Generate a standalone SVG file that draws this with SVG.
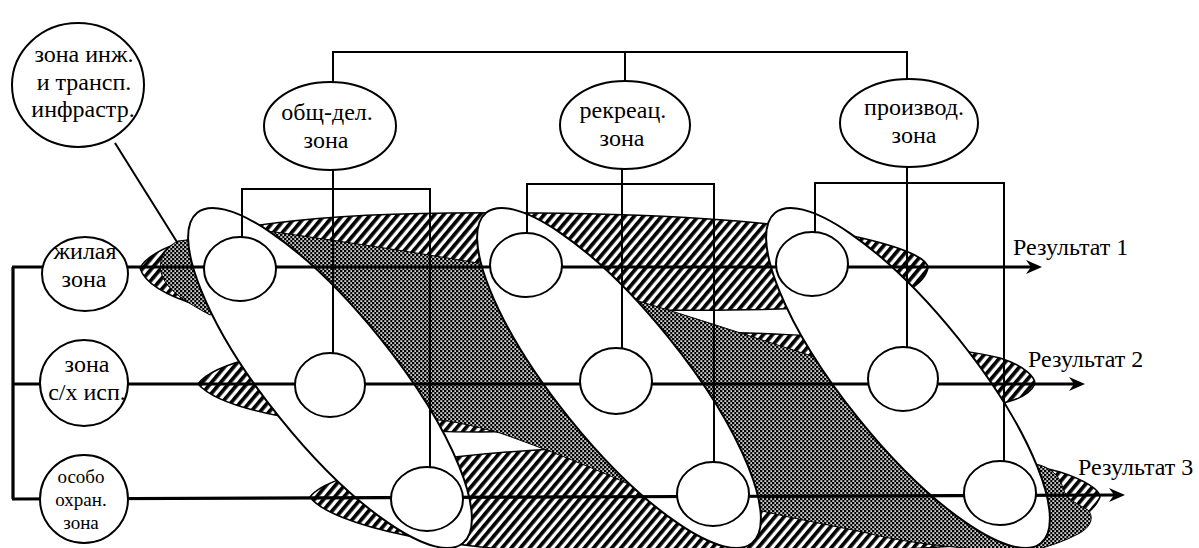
<svg xmlns="http://www.w3.org/2000/svg" width="1199" height="548" viewBox="0 0 1199 548">
<style>
text{font-family:"Liberation Serif","Times New Roman",serif;font-size:24px;fill:#000;text-anchor:middle}
.sm{font-size:19px}
.res{text-anchor:start}
.hat{fill:url(#hatch);stroke:#000;stroke-width:1.5}
.dot{fill:url(#dots);stroke:#000;stroke-width:1}
.big{fill:#fff;stroke:#000;stroke-width:2}
.node{fill:#fff;stroke:#000;stroke-width:2}
.ln{fill:none;stroke:#000;stroke-width:2}
.row{fill:none;stroke:#000;stroke-width:3.2}
</style>
<defs>
<pattern id="hatch" patternUnits="userSpaceOnUse" width="7" height="7" patternTransform="rotate(40)">
<rect width="7" height="7" fill="#fff"/><rect width="3.7" height="7" fill="#000"/>
</pattern>
<pattern id="dots" patternUnits="userSpaceOnUse" width="4" height="4">
<rect width="4" height="4" fill="#000"/><rect x="0.3" y="0.3" width="2" height="1.5" fill="#fff"/><rect x="2.3" y="2.3" width="2" height="1.5" fill="#fff"/>
</pattern>
<marker id="arr" viewBox="-16 -8 16 16" refX="-10" refY="0" markerWidth="16" markerHeight="16" markerUnits="userSpaceOnUse" orient="auto">
<path d="M0,0 L-16,-7 L-11,0 L-16,7 Z" fill="#000"/>
</marker>
</defs>

<g id="zone-fields">
<path class="hat" d="M140,268 C155,240 250,215 450,213 C650,211 800,222 870,240 C910,250 928,260 928,268 C925,282 905,300 850,306 C750,312 650,310 500,310 C350,312 230,315 200,306 C170,297 145,285 140,268 Z"/>
<path class="hat" d="M198,384 C215,360 300,340 500,333 C700,327 900,335 1000,358 C1025,366 1035,377 1035,384 C1030,395 1015,402 990,405 C800,420 600,430 480,432 C350,432 225,415 198,384 Z"/>
<path class="hat" d="M310,497 C330,470 450,452 600,447 C800,442 1000,455 1060,472 C1085,480 1100,490 1100,497 C1095,510 1080,520 1060,530 C1000,552 800,553 600,553 C450,553 330,525 310,497 Z"/>
<path class="dot" d="M178,241 C166,247 158,259 161,272 C165,290 188,303 210,315 L240,300 L205,238 Z"/>
<path class="dot" d="M252,229 C320,238 400,250 478,263 L520,263 L700,480 L650,494 C600,470 540,447 500,433 C470,425 452,421 438,420 L400,400 L260,240 Z"/>
<path class="dot" d="M628,298 C680,313 740,333 818,358 L870,360 L1040,548 L1000,550 C960,549 900,542 867,533 C830,525 790,518 758,510 L700,420 L620,300 Z"/>
<path class="dot" d="M1036,464 C1050,467 1060,476 1063,488 C1066,500 1080,505 1088,510 C1095,518 1090,528 1078,534 C1065,541 1050,546 1035,550 L1000,520 Z"/>
<ellipse class="big" cx="330" cy="378" rx="212" ry="64" transform="rotate(51.2 330 378)"/>
<ellipse class="big" cx="619" cy="378" rx="212" ry="64" transform="rotate(51.2 619 378)"/>
<ellipse class="big" cx="908" cy="378" rx="212" ry="64" transform="rotate(51.2 908 378)"/>
</g>

<g id="connectors">
<path class="ln" d="M333,82 V52 H907 V80 M625,52 V81"/>
<path class="ln" d="M242,238 V189 H430 V468 M333,170 V353"/>
<path class="ln" d="M527,233 V184 H714 V462 M622,168 V348"/>
<path class="ln" d="M815,232 V183 H1004 V461 M907,167 V347"/>
<path class="ln" d="M115,143 L177,242"/>
<path class="row" d="M13,267 V499"/>
<path class="row" d="M12,267 H1032" marker-end="url(#arr)"/>
<path class="row" d="M12,384 H1075" marker-end="url(#arr)"/>
<path class="row" d="M12,499 L1115,495" marker-end="url(#arr)"/>
</g>

<g id="n-infra"><ellipse class="node" cx="78" cy="85" rx="66" ry="62"/>
<text x="84" y="62">зона инж.</text><text x="84" y="90">и трансп.</text><text x="83" y="117">инфрастр.</text></g>
<g id="n-obsh"><ellipse class="node" cx="330" cy="126" rx="66" ry="44"/>
<text x="327" y="120">общ-дел.</text><text x="326" y="148">зона</text></g>
<g id="n-rekr"><ellipse class="node" cx="625" cy="125" rx="65" ry="44"/>
<text x="623" y="118">рекреац.</text><text x="622" y="146">зона</text></g>
<g id="n-proizv"><ellipse class="node" cx="909" cy="123" rx="69" ry="44"/>
<text x="914" y="115">производ.</text><text x="914" y="143">зона</text></g>

<g id="n-zhil"><ellipse class="node" cx="85" cy="274" rx="43" ry="37"/>
<text x="85" y="259">жилая</text><text x="84" y="287">зона</text></g>
<g id="n-sh"><ellipse class="node" cx="84" cy="383" rx="44" ry="43"/>
<text x="87" y="372">зона</text><text x="87" y="400">с/х исп.</text></g>
<g id="n-oohr"><ellipse class="node" cx="84" cy="499" rx="44" ry="44"/>
<text class="sm" x="81" y="483">особо</text><text class="sm" x="81" y="506">охран.</text><text class="sm" x="81" y="529">зона</text></g>

<g id="n-c11"><ellipse class="node" cx="240" cy="269" rx="36" ry="32"/></g>
<g id="n-c12"><ellipse class="node" cx="526" cy="265" rx="36" ry="32"/></g>
<g id="n-c13"><ellipse class="node" cx="812" cy="264" rx="36" ry="32"/></g>
<g id="n-c21"><ellipse class="node" cx="330" cy="385" rx="35" ry="32"/></g>
<g id="n-c22"><ellipse class="node" cx="616" cy="381" rx="36" ry="33"/></g>
<g id="n-c23"><ellipse class="node" cx="903" cy="379" rx="35" ry="32"/></g>
<g id="n-c31"><ellipse class="node" cx="427" cy="499" rx="36" ry="32"/></g>
<g id="n-c32"><ellipse class="node" cx="713" cy="494" rx="36" ry="32"/></g>
<g id="n-c33"><ellipse class="node" cx="1000" cy="493" rx="36" ry="32"/></g>

<g id="results">
<text class="res" x="1013" y="255">Результат 1</text>
<text class="res" x="1028" y="367">Результат 2</text>
<text class="res" x="1078" y="475">Результат 3</text>
</g>
</svg>
